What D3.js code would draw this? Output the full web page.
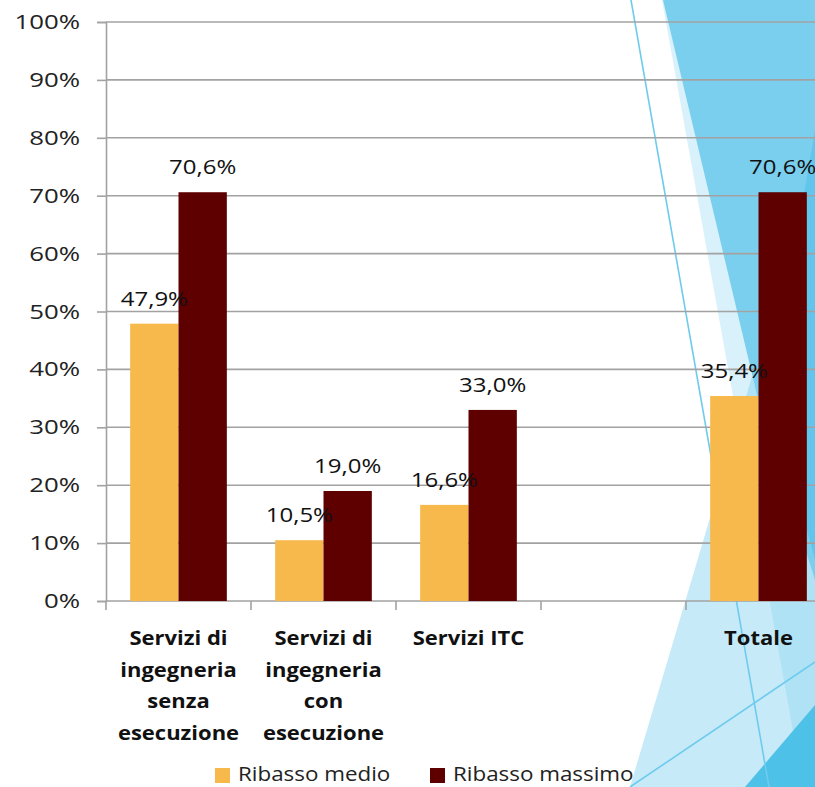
<!DOCTYPE html>
<html>
<head>
<meta charset="utf-8">
<script src="https://cdn.jsdelivr.net/npm/d3@7"></script>
<style>
  body { margin: 0; background: #fff; }
  svg { display: block; }
  text { font-family: "Open Sans", sans-serif; }
</style>
</head>
<body>
<div id="chart"></div>
<script>
const width = 815,
      height = 787;

// data
const categories = ["Servizi di ingegneria senza esecuzione", "Servizi di ingegneria con esecuzione", "Servizi ITC", "", "Totale"];
const categoryLines = [
  ["Servizi di", "ingegneria", "senza", "esecuzione"],
  ["Servizi di", "ingegneria", "con", "esecuzione"],
  ["Servizi ITC"],
  [],
  ["Totale"]
];
const ribassoMedio = [47.9, 10.5, 16.6, null, 35.4];
const ribassoMassimo = [70.6, 19.0, 33.0, null, 70.6];
const seriesNames = ["Ribasso medio", "Ribasso massimo"];
const yTicks = [0, 10, 20, 30, 40, 50, 60, 70, 80, 90, 100];

const colors = ["#f7b94b", "#5e0000"];
const gridColor = "#a2a2a2";

const svg = d3.select("#chart").append("svg")
  .attr("width", width)
  .attr("height", height);

// theme decoration (slide background shapes on the right)
const bg = svg.append("g").attr("class", "background");
const blue = "rgb(118,205,238)";
const shapes = [
  { pts: [[630, 787], [864, 0], [900, 0], [900, 787]], fill: blue, op: 0.42 },
  { pts: [[662, 0], [900, 0], [900, 787], [803, 787]], fill: blue, op: 0.28 },
  { pts: [[663, 0], [815, 0], [815, 580], [757, 395]], fill: "#7bcfee", op: 1 },
  { pts: [[815, 130], [770, 390], [815, 560]], fill: "#62c6ec", op: 1 },
  { pts: [[815, 705], [815, 787], [745, 787]], fill: "#4ec1e8", op: 1 }
];
bg.selectAll("polygon").data(shapes)
  .enter().append("polygon")
  .attr("points", d => d.pts.map(p => p.join(",")).join(" "))
  .style("fill", d => d.fill)
  .style("fill-opacity", d => d.op);

const decoLines = [[[631, 0], [769, 787]], [[630, 787], [815, 662]]];
bg.selectAll("line").data(decoLines)
  .enter().append("line")
  .attr("x1", d => d[0][0]).attr("y1", d => d[0][1])
  .attr("x2", d => d[1][0]).attr("y2", d => d[1][1])
  .style("stroke", "#6ecbee")
  .style("stroke-width", 1.6);

// scales
const x = d3.scaleBand()
  .domain(d3.range(categories.length))
  .range([106, 831]);

const xs = d3.scaleBand()
  .domain([0, 1])
  .range([0, x.bandwidth()])
  .paddingOuter(0.5);

const y = d3.scaleLinear()
  .domain([0, 100])
  .range([601, 22]);

const fmt = v => d3.format(".1f")(v).replace(".", ",") + "%";

// gridlines
svg.append("g").selectAll("line").data(yTicks.slice(1))
  .enter().append("line")
  .attr("x1", x.range()[0]).attr("x2", x.range()[1])
  .attr("y1", d => y(d)).attr("y2", d => y(d))
  .style("stroke", gridColor)
  .style("stroke-width", 1.6);

// y axis
const yAxis = svg.append("g")
  .attr("transform", `translate(${x.range()[0]},0)`)
  .call(d3.axisLeft(y).tickValues(yTicks).tickSize(9).tickFormat(""));
yAxis.selectAll("line, path").style("stroke", gridColor).style("stroke-width", 1.6);

svg.append("g").selectAll("text").data(yTicks)
  .enter().append("text")
  .attr("transform", d => `translate(80,${y(d) + 7}) scale(1.26,1)`)
  .attr("text-anchor", "end")
  .style("font-size", "20.5px")
  .style("fill", "#222")
  .text(d => d + "%");

// x axis
const xEdges = d3.range(categories.length + 1).map(i => x.range()[0] + i * x.step());
svg.append("line")
  .attr("x1", x.range()[0]).attr("x2", x.range()[1])
  .attr("y1", y(0)).attr("y2", y(0))
  .style("stroke", gridColor).style("stroke-width", 1.6);
svg.append("g").selectAll("line").data(xEdges)
  .enter().append("line")
  .attr("x1", d => d).attr("x2", d => d)
  .attr("y1", y(0)).attr("y2", y(0) + 9)
  .style("stroke", gridColor).style("stroke-width", 1.6);

// bars
const series = [ribassoMedio, ribassoMassimo];
const bars = svg.append("g");
series.forEach((vals, s) => {
  const data = vals.map((v, i) => ({ i, v })).filter(d => d.v != null);
  bars.selectAll(".bar" + s).data(data)
    .enter().append("rect")
    .attr("class", "bar" + s)
    .attr("x", d => x(d.i) + xs(s))
    .attr("width", xs.bandwidth())
    .attr("y", d => y(d.v))
    .attr("height", d => y(0) - y(d.v))
    .style("fill", colors[s]);
});

// data labels
series.forEach((vals, s) => {
  const data = vals.map((v, i) => ({ i, v })).filter(d => d.v != null);
  svg.append("g").selectAll("text").data(data)
    .enter().append("text")
    .attr("transform", d => `translate(${x(d.i) + xs(s) + xs.bandwidth() / 2},${y(d.v) - 18}) scale(1.17,1)`)
    .attr("text-anchor", "middle")
    .style("font-size", "20.5px")
    .style("fill", "#111")
    .text(d => fmt(d.v));
});

// category labels
const cat = svg.append("g").selectAll("g").data(categoryLines)
  .enter().append("g")
  .attr("transform", (d, i) => `translate(${x(i) + x.bandwidth() / 2},0)`);
cat.selectAll("text").data(d => d)
  .enter().append("text")
  .attr("transform", (d, j) => `translate(0,${645 + j * 31.7}) scale(1.1,1)`)
  .attr("text-anchor", "middle")
  .style("font-size", "20px")
  .style("font-weight", "bold")
  .style("fill", "#111")
  .text(d => d);

// legend
const legendX = [215, 430];
const legend = svg.append("g").selectAll("g").data(seriesNames)
  .enter().append("g")
  .attr("transform", (d, i) => `translate(${legendX[i]},0)`);
legend.append("rect")
  .attr("x", 0).attr("y", 768)
  .attr("width", 15).attr("height", 15)
  .style("fill", (d, i) => colors[i]);
legend.append("text")
  .attr("transform", "translate(23,781) scale(1.12,1)")
  .style("font-size", "20px")
  .style("fill", "#222")
  .text(d => d);
</script>
</body>
</html>
